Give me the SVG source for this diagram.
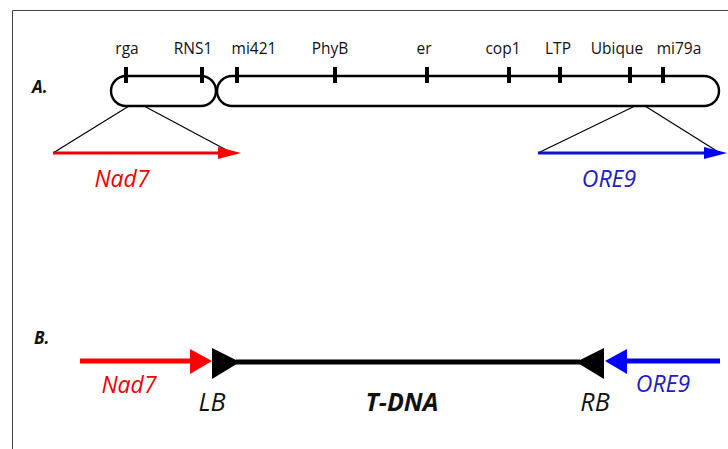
<svg xmlns="http://www.w3.org/2000/svg" width="728" height="449" viewBox="0 0 728 449">
<style>
.lbl{font-family:"Open Sans","Liberation Sans",sans-serif;font-size:15.5px;fill:#111;text-anchor:middle}
.tick{stroke:#000;stroke-width:4}
.box{fill:none;stroke:#000;stroke-width:2.4}
.thin{stroke:#000;stroke-width:1.2;fill:none}
.gene{font-family:"Open Sans","Liberation Sans",sans-serif;font-style:italic;font-size:23px;text-anchor:middle}
.bd{font-family:"Open Sans","Liberation Sans",sans-serif;font-style:italic;font-size:25px;fill:#111;text-anchor:middle}
.sec{font-family:"Open Sans","Liberation Sans",sans-serif;font-style:italic;font-weight:bold;font-size:17px;fill:#111}
</style>
<rect width="728" height="449" fill="#fff"/>
<path d="M12.5 449 V10.5 H728" fill="none" stroke="#444" stroke-width="1"/>
<text class="sec" x="32" y="93">A.</text>
<text class="sec" x="34" y="344">B.</text>
<g id="chromosome">
<rect class="box" x="111" y="76" width="105" height="30" rx="15"/>
<rect class="box" x="217" y="76" width="502" height="30" rx="15"/>
</g>
<g id="markers">
<line class="tick" x1="126" y1="67" x2="126" y2="83"/>
<line class="tick" x1="202" y1="67" x2="202" y2="83"/>
<line class="tick" x1="237" y1="67" x2="237" y2="83"/>
<line class="tick" x1="335" y1="67" x2="335" y2="83"/>
<line class="tick" x1="427" y1="67" x2="427" y2="83"/>
<line class="tick" x1="509" y1="67" x2="509" y2="83"/>
<line class="tick" x1="560" y1="67" x2="560" y2="83"/>
<line class="tick" x1="630" y1="67" x2="630" y2="83"/>
<line class="tick" x1="663" y1="67" x2="663" y2="83"/>
<text class="lbl" x="127" y="54">rga</text>
<text class="lbl" x="193" y="54">RNS1</text>
<text class="lbl" x="254" y="54">mi421</text>
<text class="lbl" x="330" y="54">PhyB</text>
<text class="lbl" x="424" y="54">er</text>
<text class="lbl" x="503" y="54">cop1</text>
<text class="lbl" x="558" y="54">LTP</text>
<text class="lbl" x="617" y="54">Ubique</text>
<text class="lbl" x="679" y="54">mi79a</text>
</g>
<g id="connectors">
<polyline class="thin" points="53,153 129,106"/>
<polyline class="thin" points="144,106 232,153"/>
<polyline class="thin" points="538,153 635,106"/>
<polyline class="thin" points="645,106 720,153"/>
</g>
<g id="nad7-a">
<line x1="53" y1="153" x2="222" y2="153" stroke="#e8000b" stroke-width="3"/>
<polygon points="218,147 241,153 218,159" fill="#f00"/>
<text class="gene" x="122" y="187" fill="#e00">Nad7</text>
</g>
<g id="ore9-a">
<line x1="538" y1="153" x2="708" y2="153" stroke="#1010d0" stroke-width="3"/>
<polygon points="704,147 727,153 704,159" fill="#00f"/>
<text class="gene" x="609" y="187" fill="#2020c0">ORE9</text>
</g>
<g id="tdna">
<line x1="236" y1="362" x2="580" y2="362" stroke="#000" stroke-width="5"/>
<polygon points="212,348 240,362 212,379" fill="#000"/>
<polygon points="604,348 576,362 604,379" fill="#000"/>
<text class="bd" x="212" y="411">LB</text>
<text class="bd" x="595" y="411">RB</text>
<text class="bd" x="402" y="411" font-weight="bold" font-size="26">T-DNA</text>
</g>
<g id="nad7-b">
<line x1="80" y1="361" x2="194" y2="361" stroke="#f00" stroke-width="5"/>
<polygon points="190,349 212,361 190,374" fill="#f00"/>
<text class="gene" x="129" y="393" fill="#e00">Nad7</text>
</g>
<g id="ore9-b">
<line x1="623" y1="361" x2="720" y2="361" stroke="#0000e0" stroke-width="5"/>
<polygon points="627,349 605,361 627,374" fill="#00f"/>
<text class="gene" x="663" y="392" fill="#2020c0">ORE9</text>
</g>
</svg>
